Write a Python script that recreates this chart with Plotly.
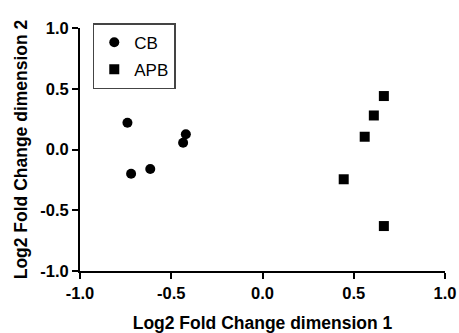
import plotly.graph_objects as go

cb_x = [-0.74, -0.72, -0.615, -0.435, -0.42]
cb_y = [0.22, -0.20, -0.16, 0.055, 0.125]
apb_x = [0.665, 0.61, 0.56, 0.445, 0.665]
apb_y = [0.44, 0.28, 0.105, -0.245, -0.63]
tick_vals = [-1.0, -0.5, 0.0, 0.5, 1.0]
tick_text = ["-1.0", "-0.5", "0.0", "0.5", "1.0"]

fig = go.Figure()
fig.add_trace(go.Scatter(x=cb_x, y=cb_y, mode="markers", name="CB", legendgroup="cb",
                         marker=dict(symbol="circle", size=10, color="black")))
fig.add_trace(go.Scatter(x=apb_x, y=apb_y, mode="markers", name="APB", legendgroup="apb",
                         marker=dict(symbol="square", size=10, color="black")))

axis_common = dict(
    showline=True, linecolor="black", linewidth=2,
    ticks="outside", ticklen=6, tickwidth=2, tickcolor="black",
    showgrid=False, zeroline=False, automargin=False,
    ticklabeloverflow="allow",
    tickvals=tick_vals, ticktext=tick_text,
    tickfont=dict(family="Liberation Sans", size=16.5, color="black", weight="bold"),
)

fig.update_layout(
    width=459, height=333,
    margin=dict(l=80, r=14, t=28, b=62),
    paper_bgcolor="white", plot_bgcolor="white",
    font=dict(family="Liberation Sans", color="black"),
    xaxis=dict(range=[-1, 1], title=dict(text="Log2 Fold Change dimension 1",
               font=dict(size=17.5, weight="bold"), standoff=20), **axis_common),
    yaxis=dict(range=[-1, 1], title=dict(text="Log2 Fold Change dimension 2",
               font=dict(size=17.5, weight="bold"), standoff=8), **axis_common),
    legend=dict(x=0.035, y=1.02, xanchor="left", yanchor="top",
                traceorder="grouped", tracegroupgap=2,
                bordercolor="#444", borderwidth=1.5, bgcolor="white",
                font=dict(family="Liberation Sans", size=17, color="black")),
    showlegend=True,
)

fig.write_html("out.html", config={"displayModeBar": False},
               post_script="document.body.style.margin='0';")
